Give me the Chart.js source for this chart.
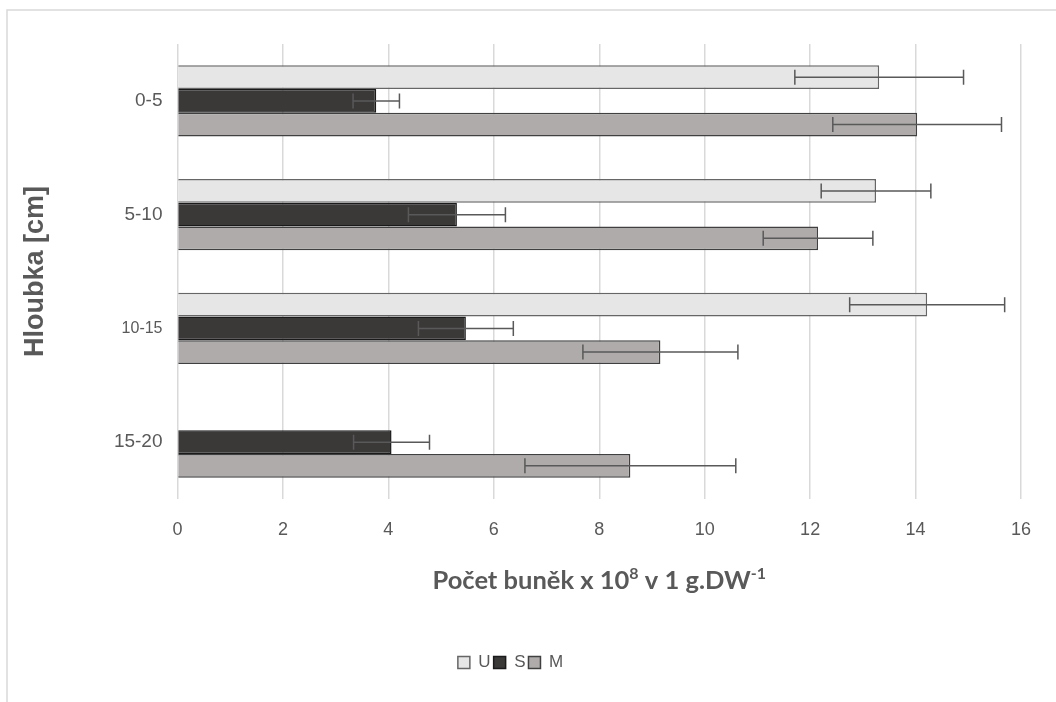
<!DOCTYPE html>
<html>
<head>
<meta charset="utf-8">
<script src="https://cdn.jsdelivr.net/npm/chart.js@4/dist/chart.umd.min.js"></script>
<style>
  html, body { margin: 0; padding: 0; background: #fff; }
  #wrap { width: 1056px; height: 702px; position: relative; }
</style>
</head>
<body>
<div id="wrap"><canvas id="barChart" width="1056" height="702"></canvas></div>
<script>
const depths = ['0-5', '5-10', '10-15', '15-20'];
const uValues = [13.31, 13.25, 14.22, null];
const sValues = [3.77, 5.30, 5.47, 4.06];
const mValues = [14.03, 12.15, 9.16, 8.59];
const uErrors = [1.60, 1.04, 1.47, null];
const sErrors = [0.44, 0.92, 0.90, 0.72];
const mErrors = [1.60, 1.04, 1.47, 2.00];
const xTicks = [0, 2, 4, 6, 8, 10, 12, 14, 16];

const textGrey = '#595959';

// error bars drawn on top of the bars
const errorBars = {
    id: 'errorBars',
    afterDatasetsDraw(chart) {
        const ctx = chart.ctx;
        const x = chart.scales.x;
        chart.data.datasets.forEach((ds, di) => {
            const meta = chart.getDatasetMeta(di);
            meta.data.forEach((bar, i) => {
                const v = ds.data[i];
                const e = ds.errors[i];
                if (v == null || e == null) return;
                const x1 = x.getPixelForValue(v - e);
                const x2 = x.getPixelForValue(v + e);
                const y = bar.y;
                ctx.save();
                ctx.strokeStyle = textGrey;
                ctx.lineWidth = 1.5;
                ctx.beginPath();
                ctx.moveTo(x1, y); ctx.lineTo(x2, y);
                ctx.moveTo(x1, y - 7.5); ctx.lineTo(x1, y + 7.5);
                ctx.moveTo(x2, y - 7.5); ctx.lineTo(x2, y + 7.5);
                ctx.stroke();
                ctx.restore();
            });
        });
    }
};

// frame + axis titles (x title needs superscripts)
const titles = {
    id: 'titles',
    beforeDraw(chart) {
        const ctx = chart.ctx;
        ctx.save();
        ctx.strokeStyle = '#d9d9d9';
        ctx.lineWidth = 1.5;
        ctx.beginPath();
        ctx.moveTo(7, 702); ctx.lineTo(7, 10); ctx.lineTo(1056, 10);
        ctx.stroke();
        ctx.restore();
    },
    afterDraw(chart) {
        const ctx = chart.ctx;
        const area = chart.chartArea;
        ctx.save();
        ctx.fillStyle = textGrey;
        ctx.textBaseline = 'alphabetic';
        const big = 'bold 25.5px Lato';
        const small = 'bold 16px Lato';
        const parts = [
            ['Počet buněk x 10', big, 0],
            ['8', small, -10],
            [' v 1 g.DW', big, 0],
            ['-1', small, -10]
        ];
        let total = 0;
        parts.forEach(p => { ctx.font = p[1]; total += ctx.measureText(p[0]).width; });
        let cx = (area.left + area.right) / 2 - total / 2;
        const base = 589;
        parts.forEach(p => {
            ctx.font = p[1];
            ctx.fillText(p[0], cx, base + p[2]);
            cx += ctx.measureText(p[0]).width;
        });

        ctx.translate(36, (area.top + area.bottom) / 2);
        ctx.rotate(-Math.PI / 2);
        ctx.font = 'bold 27px "Liberation Sans"';
        ctx.textAlign = 'center';
        ctx.textBaseline = 'middle';
        ctx.fillText('Hloubka [cm]', 0, 0);
        ctx.restore();
    }
};

new Chart(document.getElementById('barChart').getContext('2d'), {
    type: 'bar',
    data: {
        labels: depths,
        datasets: [
            { label: 'U', data: uValues, errors: uErrors, backgroundColor: '#e6e6e6', borderColor: '#666666', borderWidth: 1.5 },
            { label: 'S', data: sValues, errors: sErrors, backgroundColor: '#3b3838', borderColor: '#1a1a1a', borderWidth: 1.5 },
            { label: 'M', data: mValues, errors: mErrors, backgroundColor: '#afabab', borderColor: '#404040', borderWidth: 1.5 }
        ]
    },
    options: {
        indexAxis: 'y',
        responsive: false,
        animation: false,
        layout: { padding: { left: 0, right: 35, top: 44, bottom: 21 } },
        datasets: { bar: { categoryPercentage: 0.625, barPercentage: 1 } },
        plugins: {
            tooltip: { enabled: false },
            legend: {
                position: 'bottom',
                labels: {
                    boxWidth: 12,
                    boxHeight: 12,
                    padding: 3,
                    color: textGrey,
                    font: { family: '"Liberation Sans"', size: 17 }
                }
            }
        },
        scales: {
            x: {
                min: 0,
                max: 16,
                afterBuildTicks: (scale) => { scale.ticks = xTicks.map(v => ({ value: v })); },
                afterFit: (scale) => { scale.height = 702 - 21 - 23 - 506; },
                grid: { color: '#d9d9d9', lineWidth: 1.5, drawTicks: false },
                border: { display: false },
                ticks: { padding: 20, color: textGrey, font: { family: '"Liberation Sans"', size: 18 } }
            },
            y: {
                afterFit: (scale) => { scale.width = 177.5; },
                grid: { display: false, drawTicks: false },
                border: { display: false },
                ticks: {
                    padding: 15,
                    color: textGrey,
                    font: (c) => ({ family: '"Liberation Sans"', size: c.index === 2 ? 16 : 19 })
                }
            }
        }
    },
    plugins: [errorBars, titles]
});
</script>
</body>
</html>
